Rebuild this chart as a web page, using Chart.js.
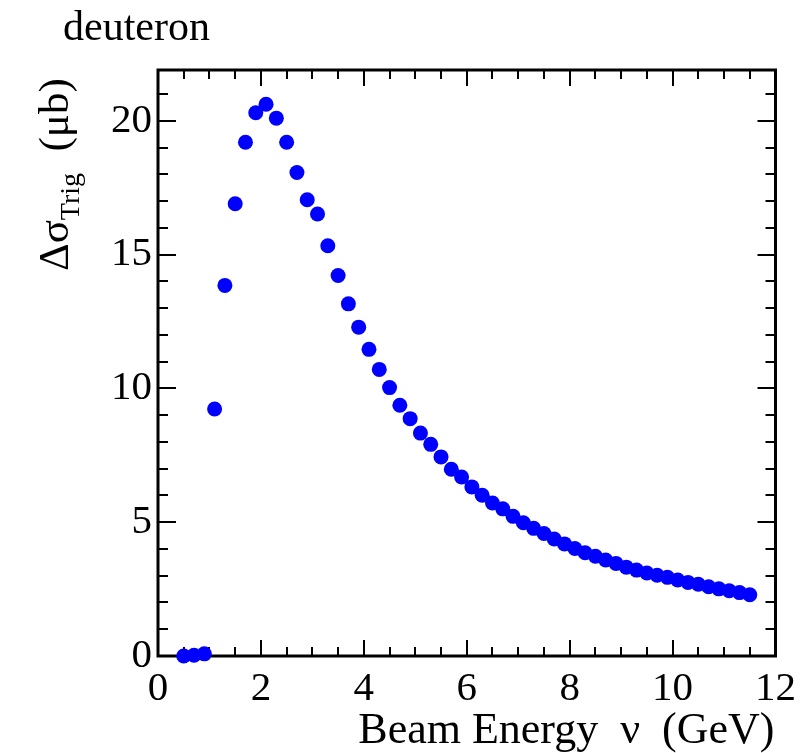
<!DOCTYPE html>
<html>
<head>
<meta charset="utf-8">
<script src="https://cdn.jsdelivr.net/npm/chart.js@4/dist/chart.umd.min.js"></script>
<style>
  body { margin: 0; background: #fff; }
  canvas { display: block; }
</style>
</head>
<body>
<canvas id="c" width="805" height="753"></canvas>
<script>
// beam energy nu (GeV)
var energy = [0.5, 0.7, 0.9, 1.1, 1.3, 1.5, 1.7, 1.9, 2.1, 2.3, 2.5, 2.7, 2.9, 3.1, 3.3, 3.5, 3.7, 3.9,
  4.1, 4.3, 4.5, 4.7, 4.9, 5.1, 5.3, 5.5, 5.7, 5.9, 6.1, 6.3, 6.5, 6.7, 6.9, 7.1, 7.3, 7.5, 7.7, 7.9,
  8.1, 8.3, 8.5, 8.7, 8.9, 9.1, 9.3, 9.5, 9.7, 9.9, 10.1, 10.3, 10.5, 10.7, 10.9, 11.1, 11.3, 11.5];
// delta sigma trig (ub)
var dsigma = [0.0, 0.03, 0.08, 9.23, 13.85, 16.9, 19.2, 20.3, 20.62, 20.1, 19.2, 18.07, 17.05, 16.52, 15.33, 14.22, 13.16, 12.29,
  11.46, 10.71, 10.03, 9.37, 8.87, 8.33, 7.91, 7.44, 6.98, 6.69, 6.32, 6.01, 5.72, 5.5, 5.22, 4.98, 4.77, 4.58, 4.37, 4.19,
  4.02, 3.86, 3.73, 3.59, 3.46, 3.32, 3.21, 3.10, 3.02, 2.94, 2.84, 2.75, 2.68, 2.59, 2.51, 2.44, 2.37, 2.29];

var xTicks = [0, 2, 4, 6, 8, 10, 12];
var yTicks = [0, 5, 10, 15, 20];

var pts = [];
for (var i = 0; i < energy.length; i++) pts.push({x: energy[i], y: dsigma[i]});

var serif = '"Liberation Serif", "DejaVu Serif", serif';

// ROOT-like frame, tick marks (inside, all four sides) and axis titles
var framePlugin = {
  id: 'frame',
  beforeDatasetsDraw: function(chart) {
    var ctx = chart.ctx, a = chart.chartArea;
    var xs = chart.scales.x, ys = chart.scales.y;
    ctx.save();
    ctx.strokeStyle = '#000';
    ctx.lineWidth = 2;
    ctx.beginPath();
    for (var v = 0; v <= 12.0001; v += 0.5) {
      var px = Math.round(xs.getPixelForValue(v));
      var len = (Math.abs(v % 2) < 1e-6) ? 16 : 9;
      ctx.moveTo(px, a.bottom); ctx.lineTo(px, a.bottom - len);
      ctx.moveTo(px, a.top); ctx.lineTo(px, a.top + len);
    }
    for (var w = 0; w <= 21; w += 1) {
      var py = Math.round(ys.getPixelForValue(w));
      var l2 = (w % 5 === 0) ? 18 : 10;
      ctx.moveTo(a.left, py); ctx.lineTo(a.left + l2, py);
      ctx.moveTo(a.right, py); ctx.lineTo(a.right - l2, py);
    }
    ctx.stroke();
    ctx.lineWidth = 3;
    ctx.strokeRect(a.left, a.top, a.right - a.left, a.bottom - a.top);
    ctx.restore();
  },
  afterDraw: function(chart) {
    var ctx = chart.ctx, a = chart.chartArea;
    ctx.save();
    ctx.fillStyle = '#000';
    // top-left label
    ctx.font = '42px ' + serif;
    ctx.textAlign = 'left';
    ctx.textBaseline = 'alphabetic';
    ctx.fillText('deuteron', 63, 40);
    // x title, right aligned to axis end
    ctx.font = '44px ' + serif;
    ctx.textAlign = 'right';
    ctx.fillText('Beam Energy  \u03BD  (GeV)', a.right - 1, 743);
    // y title, rotated, right aligned to top of axis
    ctx.translate(68, 0);
    ctx.rotate(-Math.PI / 2);
    ctx.textAlign = 'left';
    var y0 = -271;
    ctx.font = '43px ' + serif;
    ctx.fillText('\u0394\u03C3', y0, 0);
    y0 += ctx.measureText('\u0394\u03C3').width;
    ctx.font = '28px ' + serif;
    ctx.fillText('Trig', y0, 11);
    y0 += ctx.measureText('Trig').width;
    ctx.font = '43px ' + serif;
    ctx.fillText('  (\u03BCb)', y0, 0);
    ctx.restore();
  }
};

new Chart(document.getElementById('c'), {
  type: 'scatter',
  data: {
    datasets: [{
      data: pts,
      backgroundColor: '#0000ff',
      borderColor: '#0000ff',
      borderWidth: 0,
      pointRadius: 7.5,
      pointHoverRadius: 7.5,
      clip: false
    }]
  },
  options: {
    responsive: false,
    animation: false,
    devicePixelRatio: 1,
    layout: { padding: { top: 70, right: 28, left: 0, bottom: 0 } },
    plugins: { legend: { display: false }, tooltip: { enabled: false } },
    scales: {
      x: {
        type: 'linear', min: 0, max: 12,
        grid: { display: false, drawTicks: false },
        border: { display: false },
        afterBuildTicks: function(s) { s.ticks = xTicks.map(function(v) { return {value: v}; }); },
        afterFit: function(s) { s.height = 97; },
        ticks: { color: '#000', font: { family: serif, size: 41 }, padding: 9, maxRotation: 0, autoSkip: false }
      },
      y: {
        type: 'linear', min: 0, max: 21.9,
        grid: { display: false, drawTicks: false },
        border: { display: false },
        afterBuildTicks: function(s) { s.ticks = yTicks.map(function(v) { return {value: v}; }); },
        afterFit: function(s) { s.width = 158; },
        ticks: { color: '#000', font: { family: serif, size: 41 }, padding: 6, autoSkip: false }
      }
    }
  },
  plugins: [framePlugin]
});
</script>
</body>
</html>
